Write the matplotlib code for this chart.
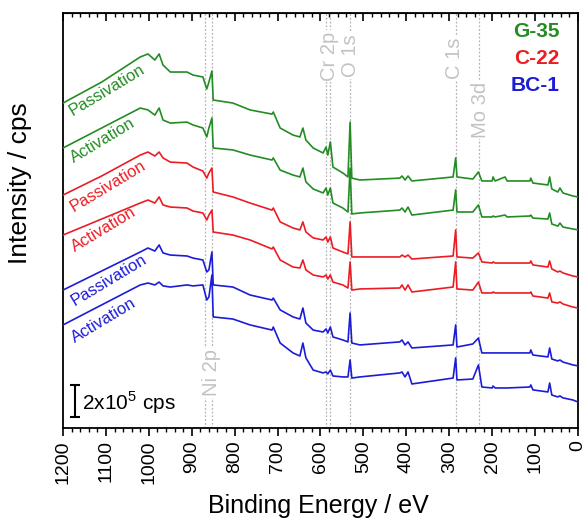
import numpy as np
import matplotlib.pyplot as plt
from matplotlib.ticker import MultipleLocator

plt.rcParams['font.family'] = ['Liberation Sans', 'DejaVu Sans']

# binding energies (eV) of the sampled points
energy = [1200, 1110, 1020, 1002, 986, 976, 967, 950, 911, 897, 874, 865, 860, 853, 850,
          804, 764, 713, 710, 694, 664, 648, 641, 634, 617, 594, 587, 583, 577, 571,
          548, 536, 531, 527, 508, 415, 410, 403, 396, 387, 291, 285, 282, 245, 232,
          224, 200, 198, 193, 170, 165, 112, 110, 105, 70, 66, 61, 47, 42, 35, 12, 0]

# stacked intensities (kcps)
g35_pass = [2031, 2162, 2319, 2338, 2300, 2338, 2269, 2225, 2225, 2206, 2194, 2119, 2162, 2231, 2050,
            2031, 1988, 1962, 1975, 1875, 1831, 1819, 1875, 1800, 1750, 1719, 1756, 1706, 1788, 1631,
            1594, 1569, 1912, 1562, 1550, 1562, 1575, 1550, 1575, 1544, 1569, 1688, 1569, 1556, 1600,
            1544, 1544, 1569, 1544, 1569, 1544, 1544, 1562, 1531, 1519, 1569, 1494, 1475, 1500, 1469, 1450, 1444]
g35_act = [1750, 1875, 2000, 1988, 1956, 2000, 1925, 1906, 1912, 1894, 1875, 1819, 1875, 1938, 1750,
           1738, 1706, 1675, 1688, 1612, 1581, 1569, 1625, 1538, 1494, 1469, 1500, 1456, 1500, 1406,
           1375, 1350, 1625, 1338, 1344, 1362, 1375, 1350, 1381, 1331, 1362, 1488, 1350, 1350, 1394,
           1319, 1319, 1325, 1319, 1331, 1319, 1325, 1331, 1312, 1306, 1344, 1275, 1262, 1281, 1256, 1244, 1238]
c22_pass = [1456, 1575, 1706, 1725, 1700, 1725, 1688, 1662, 1656, 1631, 1606, 1562, 1594, 1625, 1475,
            1444, 1406, 1362, 1375, 1288, 1250, 1238, 1288, 1225, 1188, 1175, 1194, 1162, 1194, 1125,
            1100, 1088, 1288, 1069, 1069, 1069, 1081, 1069, 1081, 1056, 1075, 1238, 1069, 1062, 1094,
            1038, 1031, 1038, 1031, 1031, 1031, 1031, 1044, 1019, 1006, 1044, 994, 975, 981, 969, 950, 944]
c22_act = [1206, 1306, 1406, 1425, 1406, 1444, 1394, 1381, 1375, 1356, 1344, 1300, 1331, 1362, 1225,
           1206, 1175, 1119, 1131, 1050, 1006, 1000, 1050, 988, 956, 944, 956, 931, 956, 912,
           894, 875, 1038, 862, 869, 875, 894, 862, 894, 850, 881, 1038, 869, 862, 912,
           844, 844, 850, 844, 844, 844, 844, 850, 825, 812, 844, 788, 781, 788, 775, 756, 750]
bc1_pass = [862, 981, 1100, 1125, 1106, 1144, 1094, 1081, 1075, 1062, 1050, 975, 988, 1100, 894,
            881, 831, 800, 812, 738, 694, 681, 750, 656, 612, 600, 619, 594, 631, 569,
            550, 538, 719, 531, 519, 538, 550, 519, 538, 500, 519, 644, 506, 525, 562,
            469, 469, 469, 469, 469, 469, 469, 488, 456, 444, 500, 431, 419, 425, 412, 394, 388]
bc1_act = [644, 769, 894, 906, 894, 912, 888, 881, 894, 888, 894, 800, 819, 956, 694,
           681, 644, 612, 631, 531, 469, 450, 531, 438, 362, 344, 350, 338, 362, 325,
           319, 319, 425, 312, 319, 344, 350, 319, 350, 275, 312, 438, 300, 306, 394,
           256, 250, 262, 250, 250, 250, 256, 269, 238, 225, 281, 206, 194, 200, 188, 175, 162]

green = '#238c23'
red = '#ec1c24'
blue = '#1c1cd8'

spectra = [(bc1_act, blue, 'Activation', 1104, 675),
           (bc1_pass, blue, 'Passivation', 1093, 925),
           (c22_act, red, 'Activation', 1104, 1238),
           (c22_pass, red, 'Passivation', 1095, 1512),
           (g35_act, green, 'Activation', 1107, 1800),
           (g35_pass, green, 'Passivation', 1097, 2112)]

# reference lines: energies, label, label position
ref_lines = [869, 853, 587, 577, 531, 285, 230]
ref_labels = [('Ni 2p', 853, 344), ('Cr 2p', 578, 2325), ('O 1s', 529, 2325),
              ('C 1s', 287, 2312), ('Mo 3d', 228, 1988)]

fig = plt.figure(figsize=(5.85, 5.2), dpi=100)
ax = fig.add_axes([0.1077, 0.177, 0.8803, 0.798])

for e in ref_lines:
    ax.axvline(e, color='#b4b4b4', ls=(0, (1.5, 1.5)), lw=0.9, zorder=1)
for txt, x, y in ref_labels:
    ax.text(x, y, txt, rotation=90, ha='center', va='center', fontsize=14.5, color='#c3c3c3',
            bbox=dict(facecolor='white', edgecolor='none', pad=1.0), zorder=2)

for vals, col, name, tx, ty in spectra:
    ax.plot(energy, vals, color=col, lw=1.2, zorder=3)
    ax.text(tx, ty, name, color=col, fontsize=12, rotation=31, ha='center', va='center', zorder=4)

# legend text
ax.text(0.965, 0.955, 'G-35', color=green, fontsize=15, fontweight='bold', ha='right', va='center', transform=ax.transAxes)
ax.text(0.965, 0.89, 'C-22', color=red, fontsize=15, fontweight='bold', ha='right', va='center', transform=ax.transAxes)
ax.text(0.965, 0.825, 'BC-1', color=blue, fontsize=15, fontweight='bold', ha='right', va='center', transform=ax.transAxes)

# scale bar 2x10^5 cps
ax.errorbar([1172], [169], yerr=[100], color='black', capsize=3.5, lw=1.5, capthick=1.5)
ax.text(1156, 160, r'2x10$^{\mathregular{5}}$ cps', fontsize=15, ha='left', va='center')

ax.set_xlim(1200, 0)
ax.set_ylim(0, 2594)
ax.set_yticks([])
ax.xaxis.set_major_locator(MultipleLocator(100))
ax.xaxis.set_minor_locator(MultipleLocator(20))
ax.tick_params(axis='x', which='major', direction='out', length=6, width=1.2, labelsize=14, labelrotation=90, pad=3)
ax.tick_params(axis='x', which='minor', direction='out', length=3, width=1.0)
sec = ax.secondary_xaxis('top')
sec.xaxis.set_major_locator(MultipleLocator(100))
sec.xaxis.set_minor_locator(MultipleLocator(20))
sec.tick_params(axis='x', which='major', direction='in', length=6, width=1.2, labeltop=False)
sec.tick_params(axis='x', which='minor', direction='in', length=3, width=1.0)
for s in ax.spines.values():
    s.set_linewidth(1.3)

ax.set_xlabel('Binding Energy / eV', fontsize=18)
ax.xaxis.set_label_coords(0.495, -0.158)
ax.set_ylabel('Intensity / cps', fontsize=19)
ax.yaxis.set_label_coords(-0.06, 0.59)

fig.savefig('out.png', dpi=100)
